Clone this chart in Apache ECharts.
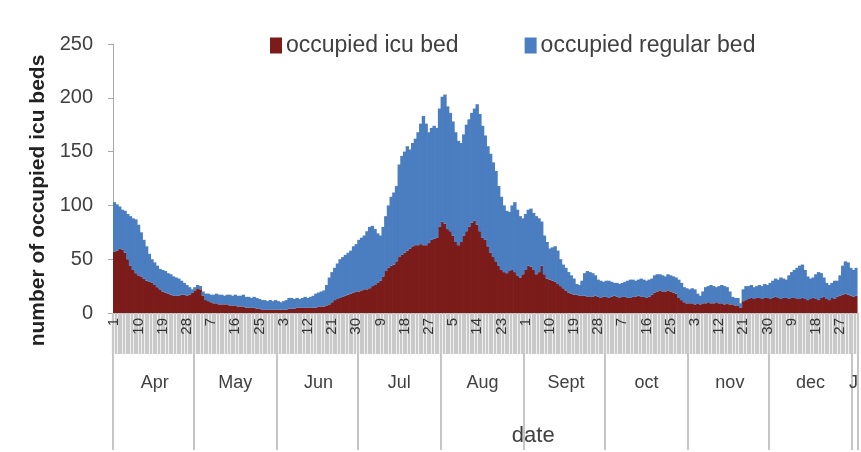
<!DOCTYPE html>
<html><head><meta charset="utf-8">
<script src="https://cdn.jsdelivr.net/npm/echarts@6/dist/echarts.min.js"></script>
<style>html,body{margin:0;padding:0;background:#fff}#c{width:861px;height:452px}</style>
</head><body><div id="c"></div>
<script>
const monthNames = ['Apr','May','Jun','Jul','Aug','Sept','oct','nov','dec','J'];
const monthDays = [30,31,30,31,31,30,31,30,31,2];
const yTicks = [0,50,100,150,200,250];
const seriesNames = ['occupied icu bed','occupied regular bed'];

const icuBeds = [
57,58,60,59,56,50,44,40,37,35,
34,32,30,29,28,26,24,22,20,19,
18,17,16,16,16,17,17,16,17,19,
21,23,22,16,12,11,10,9,9,8,
8,8,8,7,7,7,6,6,6,5,
5,5,5,4,4,3,3,3,3,3,
3,3,3,3,3,4,4,4,5,5,
5,5,5,5,5,5,6,6,6,7,
8,10,12,13,14,15,16,17,18,19,
20,20,21,22,22,23,25,26,28,30,
34,39,42,44,45,48,52,54,56,58,
60,62,63,63,64,63,63,65,68,69,
70,80,85,83,78,76,72,66,63,66,
72,76,80,84,86,82,76,70,68,62,
56,52,48,44,40,38,37,39,40,38,
35,33,36,40,44,43,40,36,38,44,
36,32,31,30,29,27,25,23,21,19,
18,17,17,16,16,16,15,15,15,16,
15,14,15,15,14,15,16,15,14,15,
15,14,14,15,15,16,15,15,14,15,
17,19,20,21,20,20,21,20,19,18,
14,12,10,9,9,9,8,9,8,9,
9,10,9,9,10,9,9,8,9,8,
8,7,7,5,11,12,13,14,13,14,
14,13,14,14,13,14,15,14,13,14,
14,13,14,14,13,13,14,13,12,13,
14,13,12,14,15,13,12,14,13,15,
16,17,18,17,16,15,16
];
const regularBeds = [
46,43,39,37,39,42,46,48,50,47,
41,36,32,26,22,21,20,19,20,20,
19,19,18,17,16,13,11,10,7,3,
3,3,3,4,6,7,7,8,9,9,
9,8,9,10,9,10,10,10,11,10,
10,9,10,10,9,9,9,8,9,8,
9,8,7,8,9,10,10,9,9,8,
9,10,9,10,11,13,13,14,15,19,
25,28,30,33,36,37,38,39,40,43,
44,48,49,50,54,57,56,52,46,42,
46,51,58,64,67,70,86,92,94,97,
92,96,99,105,112,120,113,103,104,105,
102,110,116,120,114,110,106,102,97,92,
94,99,100,102,104,112,109,104,97,93,
92,88,84,74,68,62,58,55,60,65,
61,57,52,52,52,54,53,54,50,41,
36,34,29,31,33,31,25,22,21,19,
17,15,10,10,14,21,24,23,22,19,
16,16,14,15,16,14,12,13,13,13,
14,16,17,16,15,15,17,16,16,16,
15,16,16,15,15,14,15,15,15,15,
17,16,14,14,13,14,14,9,8,11,
15,15,17,16,14,16,17,17,15,12,
7,7,7,4,11,13,12,12,11,11,
12,12,13,12,15,16,17,17,20,18,
17,22,24,26,29,31,31,27,22,19,
19,23,26,23,18,15,14,14,17,15,
19,27,30,30,26,25,26
];

// build day categories
const days = [], dayNum = [], monthIdx = [];
monthNames.forEach(function (m, mi) {
  for (let d = 1; d <= monthDays[mi]; d++) { days.push(m + ' ' + d); dayNum.push(d); monthIdx.push(mi); }
});
const lastMonth = monthNames.length - 1;

const FONT = 'Liberation Sans';
const TXT = '#404040';
const chart = echarts.init(document.getElementById('c'));
chart.setOption({
  animation: false,
  textStyle: { fontFamily: FONT },
  legend: {
    left: 265, top: 29, itemWidth: 12, itemHeight: 16, itemGap: 66,
    icon: 'rect',
    textStyle: { fontFamily: FONT, fontSize: 23, color: TXT, padding: [0, 0, 0, -1] },
    data: seriesNames
  },
  grid: { left: 113, right: -2, top: 44, bottom: 137, containLabel: false },
  xAxis: [{
    type: 'category', data: days, boundaryGap: true, position: 'bottom',
    axisLine: { show: true, lineStyle: { color: '#a8a8a8', width: 1 } },
    axisTick: { show: true, interval: 0, length: 41, lineStyle: { color: '#c9c9c9', width: 2.3 } },
    axisLabel: {
      interval: 8, rotate: 90, margin: 5, fontSize: 15, color: '#333', fontFamily: FONT,
      formatter: function (v, i) { return String(dayNum[i]); }
    },
    splitLine: { show: false }
  }, {
    type: 'category', data: days, boundaryGap: true, position: 'bottom', offset: 41,
    axisLine: { show: false },
    axisTick: { show: true, length: 96, lineStyle: { color: '#b4b4b4', width: 1.5 },
      interval: function (i) { return dayNum[i] === 1; } },
    axisLabel: {
      margin: 20, fontSize: 18, color: TXT, fontFamily: FONT,
      interval: function (i) { return monthIdx[i] === lastMonth ? dayNum[i] === 1 : dayNum[i] === 16; },
      formatter: function (v, i) { return monthNames[monthIdx[i]]; }
    },
    name: 'date', nameLocation: 'middle', nameGap: 71,
    nameTextStyle: { fontFamily: FONT, fontSize: 22, color: TXT, padding: [0, 0, 0, 96] },
    splitLine: { show: false }
  }],
  yAxis: {
    type: 'value', min: yTicks[0], max: yTicks[yTicks.length - 1], interval: yTicks[1] - yTicks[0],
    axisLine: { show: true, lineStyle: { color: '#a8a8a8', width: 1 } },
    axisTick: { show: true, length: 5, lineStyle: { color: '#a8a8a8' } },
    axisLabel: { fontSize: 20, color: TXT, margin: 20, fontFamily: FONT },
    splitLine: { show: false },
    name: 'number of occupied icu beds', nameLocation: 'middle', nameGap: 62,
    nameTextStyle: { fontFamily: FONT, fontSize: 21, fontWeight: 'bold', color: '#222', padding: [0, 44, 0, 0] }
  },
  series: [{
    name: seriesNames[0], type: 'bar', stack: 'beds', data: icuBeds,
    barWidth: 3.4,
    itemStyle: { color: '#7b1c1a' }
  }, {
    name: seriesNames[1], type: 'bar', stack: 'beds', data: regularBeds,
    barWidth: 3.4,
    itemStyle: { color: '#4a7ec0' }
  }]
});
</script>
</body></html>
